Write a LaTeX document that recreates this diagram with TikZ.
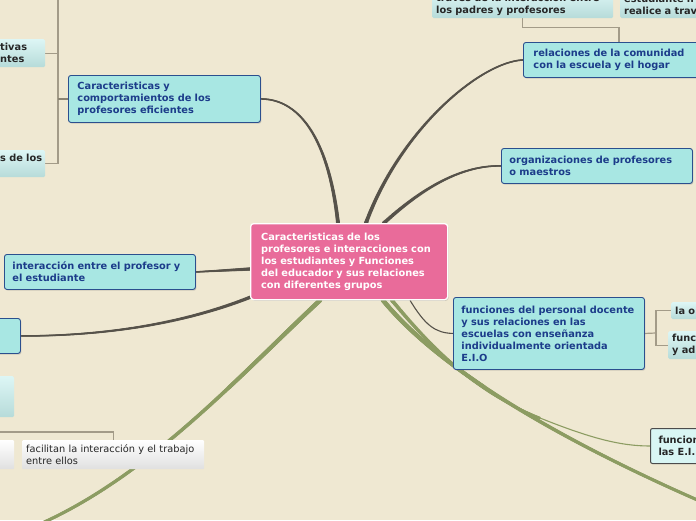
\documentclass[tikz,border=0pt]{standalone}
\usepackage{fontspec}
\setmainfont{DejaVu Sans}
\usetikzlibrary{shadows,calc,decorations.markings}
\definecolor{bg}{HTML}{EFE8D2}
\definecolor{pinkc}{HTML}{E96B9A}
\definecolor{cyanfill}{HTML}{A8E7E3}
\definecolor{bordblue}{HTML}{2B4F8E}
\definecolor{txtblue}{HTML}{1C3C8A}
\definecolor{subtop}{HTML}{DDF6F5}
\definecolor{subbot}{HTML}{B6DBD9}
\definecolor{graytop}{HTML}{FFFFFF}
\definecolor{graybot}{HTML}{E0E0E0}
\definecolor{dkline}{HTML}{56524A}
\definecolor{grline}{HTML}{8C9C62}
\definecolor{brk}{HTML}{A39B88}
\definecolor{brkd}{HTML}{8A8372}
\definecolor{ffill}{HTML}{D9F6F4}
\pgfdeclarelayer{bottom}
\pgfdeclarelayer{background}
\pgfsetlayers{bottom,background,main}
\tikzset{
  fnt/.style={font=\fontsize{9.8}{12}\selectfont\bfseries},
  fntn/.style={font=\fontsize{9.8}{12}\selectfont},
  base/.style={anchor=north west, align=left, inner ysep=0pt},
  mainbox/.style={base, fnt, draw=bordblue, fill=cyanfill, line width=0.9pt, rounded corners=2.5pt, text=txtblue,
    drop shadow={shadow xshift=1pt, shadow yshift=-1.2pt, opacity=0.3}},
  centerbox/.style={base, fnt, draw=white, fill=pinkc, line width=1.3pt, rounded corners=3pt, text=white,
    drop shadow={shadow xshift=1pt, shadow yshift=-1.2pt, opacity=0.3}},
  subbox/.style={base, fnt, top color=subtop, bottom color=subbot, draw=none, rounded corners=1.5pt, text=black!85},
  graybox/.style={base, fntn, top color=graytop, bottom color=graybot, draw=none, rounded corners=1pt, text=black!85},
  fbox/.style={base, fnt, draw=black!70, fill=ffill, line width=1pt, rounded corners=2pt, text=black!85},
  taper/.style n args={3}{draw=#3, line width=#2pt,
    postaction={decorate, decoration={markings, mark=between positions 0 and 1 step 0.6pt with
      {\pgfmathsetmacro\tr{0.5*(#1+(#2-#1)*\pgfkeysvalueof{/pgf/decoration/mark info/distance from start}/\pgfdecoratedpathlength)}%
       \fill[#3] (0,0) circle[radius=\tr pt];}}}},
  dk/.style={taper={4}{1.5}{dkline}},
  dkthin/.style={draw=dkline, line width=1.1pt},
  grthin/.style={draw=grline, line width=1.1pt},
  brline/.style={draw=brk, line width=1.2pt},
  brdark/.style={draw=brkd, line width=1.6pt},
}
\begin{document}
\begin{tikzpicture}[x=1pt,y=-1pt]
\useasboundingbox (0,0) rectangle (696,520);
\begin{pgfonlayer}{bottom}
\fill[bg] (0,0) rectangle (696,520);
\end{pgfonlayer}

% free ends
\coordinate (tl) at (58,-2);
\coordinate (bl) at (40,524);
\coordinate (br) at (702,502);
\coordinate (gm) at (540,418);
\coordinate (ej) at (656,333);
\coordinate (b0) at (-2,432);

% nodes
\node[centerbox, minimum width=197pt, minimum height=76pt, inner xsep=10.5pt, text width=176pt] (c) at (250,223)
  {Caracteristicas de los\\profesores e interacciones con\\los estudiantes y Funciones\\del educador y sus relaciones\\con diferentes grupos};

\node[mainbox, minimum width=192pt, minimum height=47pt, inner xsep=9pt, text width=174pt] (n1) at (68,75)
  {Caracteristicas y\\comportamientos de los\\profesores eficientes};
\node[mainbox, minimum width=200pt, minimum height=35pt, inner xsep=10pt, text width=180pt] (n2) at (523,42)
  {relaciones de la comunidad\\con la escuela y el hogar};
\node[mainbox, minimum width=191pt, minimum height=35pt, inner xsep=8pt, text width=175pt] (n3) at (501,148)
  {organizaciones de profesores\\o maestros};
\node[mainbox, minimum width=191pt, minimum height=72pt, inner xsep=8pt, text width=175pt] (n4) at (453,297)
  {funciones del personal docente\\y sus relaciones en las\\escuelas con enseñanza\\individualmente orientada\\E.I.O};
\node[mainbox, minimum width=191pt, minimum height=35pt, inner xsep=8pt, text width=175pt] (n5) at (4,254)
  {interacción entre el profesor y\\el estudiante};
\node[mainbox, minimum width=191pt, minimum height=35pt, inner xsep=8pt, text width=175pt] (n6) at (-171,318) {};

\node[subbox, minimum width=47pt, minimum height=28pt, inner xsep=2pt, text width=43pt] (s1) at (-2,39)
  {tivas\\ntes};
\node[subbox, minimum width=47pt, minimum height=27pt, inner xsep=2pt, text width=43pt] (s2) at (-2,150)
  {s de los\\\mbox{}};

\node[subbox, minimum width=181pt, minimum height=27pt, inner xsep=4pt, text width=173pt] (t1) at (432,-9)
  {través de la interacción entre\\los padres y profesores};
\node[subbox, minimum width=100pt, minimum height=27pt, inner xsep=4pt, text width=92pt] (t2) at (620,-9)
  {estudiante n\\realice a trav};

\node[subbox, minimum width=40pt, minimum height=17pt, inner xsep=4pt, text width=32pt] (r1) at (671,302) {la o};
\node[subbox, minimum width=40pt, minimum height=28pt, inner xsep=4pt, text width=32pt] (r2) at (668,331) {func\\y ad};

\node[fbox, minimum width=60pt, minimum height=35pt, inner xsep=8pt, text width=44pt] (f) at (650,428)
  {funcion\\las E.I.};

\node[subbox, minimum width=54pt, minimum height=41pt, inner xsep=2pt, text width=50pt] (b1) at (-40,376) {};
\node[graybox, minimum width=54pt, minimum height=29pt, inner xsep=2pt, text width=50pt] (b2) at (-40,440) {};
\node[graybox, minimum width=182pt, minimum height=29pt, inner xsep=4pt, text width=174pt] (b3) at (22,440)
  {facilitan la interacción y el trabajo\\entre ellos};

\begin{pgfonlayer}{background}
% bracket connectors
\draw[brline] (tl) |- (s2.east);
\draw[brline] (s1.east) -- (s1.east -| tl);
\draw[brdark] (n1.west) -- (n1.west -| tl);
\draw[brline] (t1.south) -- ++(0,9) -| ($(n2.north west)+(96,0)$);
\draw[brline] (n4.east) -- (ej);
\draw[brline] (r1.west) -| (ej);
\draw[brline] (r2.west) -| (ej);
\draw[brline] (b0) -| (b3.north);

% main connectors
\path[dk] ($(c.north west)+(88,0)$) .. controls (330,150) and (305,99) .. (n1.east);
\path[dk] ($(c.north west)+(116,0)$) .. controls (400,130) and (480,62) .. (n2.west);
\path[dk] ($(c.north west)+(134,0)$) .. controls (420,190) and (460,165) .. (n3.west);
\path[taper={3.5}{1.5}{dkline}] ($(c.north west)+(0,46)$) -- (n5.east);
\path[taper={3.5}{1.5}{dkline}] ($(c.south west)+(0,-3)$) .. controls (180,325) and (100,336) .. (n6.east);
\draw[dkthin] ($(c.south west)+(160,0)$) .. controls (425,325) and (435,333) .. (n4.west);
\path[taper={4.5}{3}{grline}] ($(c.south west)+(70,0)$) .. controls (240,375) and (150,475) .. (bl);
\path[taper={4.5}{3}{grline}] ($(c.south west)+(133,0)$) .. controls (440,370) and (560,440) .. (br);
\path[taper={4}{2.2}{grline}] ($(c.south west)+(142,0)$) .. controls (445,365) and (490,398) .. (gm);
\draw[grthin] (gm) .. controls (590,438) and (620,446) .. (f.west);
\end{pgfonlayer}
\end{tikzpicture}
\end{document}
